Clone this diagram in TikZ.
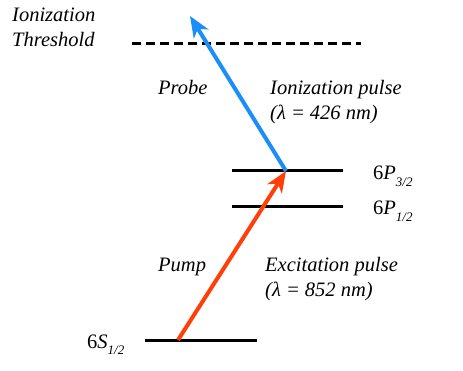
\documentclass[tikz,border=0pt]{standalone}
\usepackage{fontspec}
\setmainfont{Liberation Serif}
\newfontfamily\tmsfont{Liberation Serif}
\usetikzlibrary{arrows.meta}
\definecolor{probeblue}{RGB}{28,142,250}
\definecolor{pumpred}{RGB}{255,62,8}
\newcommand{\lvlsub}[1]{\raisebox{-0.3em}{\tmsfont\fontsize{13}{13}\selectfont\itshape #1}}
\begin{document}
\begin{tikzpicture}[x=1pt,y=-1pt,
  lbl/.style={anchor=base west,inner sep=0pt,font=\tmsfont\fontsize{20.5}{24}\selectfont\itshape},
  lvl/.style={anchor=base west,inner sep=0pt,font=\tmsfont\fontsize{20.5}{24}\selectfont},
  levelline/.style={line width=3pt},
  threshline/.style={line width=3pt,dash pattern=on 9pt off 5pt},
  beam/.style={line width=4pt,-{Stealth[length=21pt,width=17pt,inset=6pt]}}]
\useasboundingbox (0,0) rectangle (463,371);
% levels
\coordinate (thL) at (132,44); \coordinate (thR) at (361,44);
\coordinate (p3L) at (232,171); \coordinate (p3R) at (343,171);
\coordinate (p1L) at (232,207); \coordinate (p1R) at (343,207);
\coordinate (sL) at (145,340); \coordinate (sR) at (257,340);
\coordinate (g) at (178,340);
\coordinate (e) at (286,171);
\coordinate (ion) at (190,16);
\draw[threshline] (thL) -- (thR);
\draw[levelline] (p3L) -- (p3R);
\draw[levelline] (p1L) -- (p1R);
\draw[levelline] (sL) -- (sR);
\draw[beam,pumpred] (g) -- (e);
\draw[beam,probeblue] (e) -- (ion);
% labels
\node[lbl] (t1) at (12,22) {Ionization};
\node[lbl] (t2) at (12,47) {Threshold};
\node[lbl] (probe) at (158,95) {Probe};
\node[lbl] (ipulse) at (270,95) {Ionization pulse};
\node[lbl] (ilam) at (270,120) {(λ = 426 nm)};
\node[lvl] (l3) at (373,180) {6{\itshape P}\lvlsub{3/2}};
\node[lvl] (l1) at (373,215) {6{\itshape P}\lvlsub{1/2}};
\node[lbl] (pump) at (158,272) {Pump};
\node[lbl] (epulse) at (265,272) {Excitation pulse};
\node[lbl] (elam) at (265,297) {(λ = 852 nm)};
\node[lvl] (ls) at (87,348) {6{\itshape S}\lvlsub{1/2}};
\end{tikzpicture}
\end{document}
